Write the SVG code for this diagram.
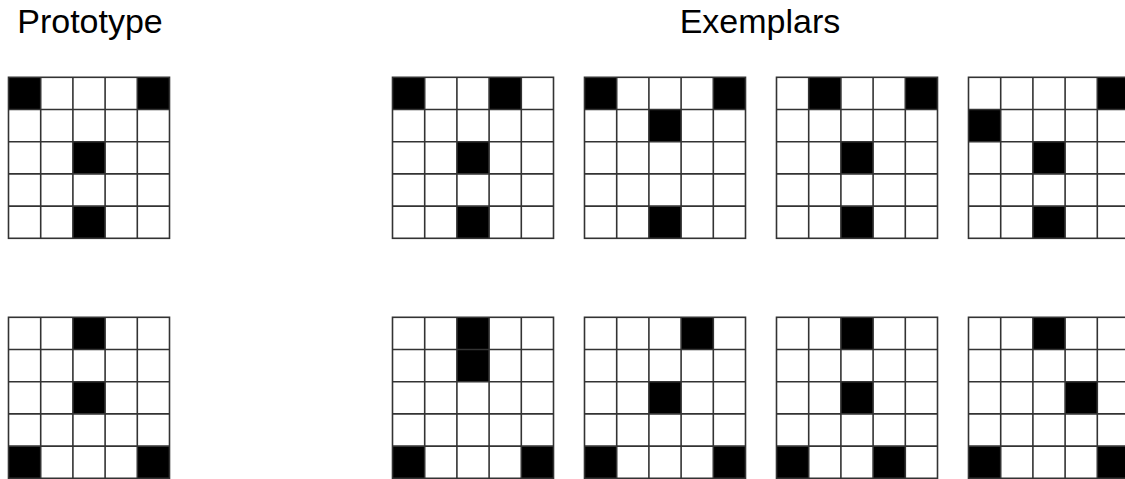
<svg xmlns="http://www.w3.org/2000/svg" xmlns:xlink="http://www.w3.org/1999/xlink" width="1125" height="479" viewBox="0 0 1125 479">
<style>
.title{font-family:"Liberation Sans",Arial,sans-serif;font-size:34px;fill:#000;text-anchor:middle}
.on{fill:#000}
.lines{fill:none;stroke:#333;stroke-width:1.6}
</style>
<defs>
<g id="grid">
<rect class="lines" x="0" y="0" width="161" height="161"/>
<path class="lines" d="M32.2 0V161M64.4 0V161M96.6 0V161M128.8 0V161M0 32.2H161M0 64.4H161M0 96.6H161M0 128.8H161"/>
</g>
<rect id="c" width="32.2" height="32.2" class="on"/>
</defs>
<rect width="1125" height="479" fill="#fff"/>
<text class="title" x="90" y="33">Prototype</text>
<text class="title" x="760" y="33">Exemplars</text>

<g id="proto-top" transform="translate(8.5,77.3)">
<use xlink:href="#c" x="0" y="0"/><use xlink:href="#c" x="128.8" y="0"/><use xlink:href="#c" x="64.4" y="64.4"/><use xlink:href="#c" x="64.4" y="128.8"/>
<use xlink:href="#grid"/>
</g>
<g id="ex1-top" transform="translate(392.5,77.3)">
<use xlink:href="#c" x="0" y="0"/><use xlink:href="#c" x="96.6" y="0"/><use xlink:href="#c" x="64.4" y="64.4"/><use xlink:href="#c" x="64.4" y="128.8"/>
<use xlink:href="#grid"/>
</g>
<g id="ex2-top" transform="translate(584.5,77.3)">
<use xlink:href="#c" x="0" y="0"/><use xlink:href="#c" x="128.8" y="0"/><use xlink:href="#c" x="64.4" y="32.2"/><use xlink:href="#c" x="64.4" y="128.8"/>
<use xlink:href="#grid"/>
</g>
<g id="ex3-top" transform="translate(776.5,77.3)">
<use xlink:href="#c" x="32.2" y="0"/><use xlink:href="#c" x="128.8" y="0"/><use xlink:href="#c" x="64.4" y="64.4"/><use xlink:href="#c" x="64.4" y="128.8"/>
<use xlink:href="#grid"/>
</g>
<g id="ex4-top" transform="translate(968.5,77.3)">
<use xlink:href="#c" x="128.8" y="0"/><use xlink:href="#c" x="0" y="32.2"/><use xlink:href="#c" x="64.4" y="64.4"/><use xlink:href="#c" x="64.4" y="128.8"/>
<use xlink:href="#grid"/>
</g>

<g id="proto-bottom" transform="translate(8.5,317.3)">
<use xlink:href="#c" x="64.4" y="0"/><use xlink:href="#c" x="64.4" y="64.4"/><use xlink:href="#c" x="0" y="128.8"/><use xlink:href="#c" x="128.8" y="128.8"/>
<use xlink:href="#grid"/>
</g>
<g id="ex1-bottom" transform="translate(392.5,317.3)">
<use xlink:href="#c" x="64.4" y="0"/><use xlink:href="#c" x="64.4" y="32.2"/><use xlink:href="#c" x="0" y="128.8"/><use xlink:href="#c" x="128.8" y="128.8"/>
<use xlink:href="#grid"/>
</g>
<g id="ex2-bottom" transform="translate(584.5,317.3)">
<use xlink:href="#c" x="96.6" y="0"/><use xlink:href="#c" x="64.4" y="64.4"/><use xlink:href="#c" x="0" y="128.8"/><use xlink:href="#c" x="128.8" y="128.8"/>
<use xlink:href="#grid"/>
</g>
<g id="ex3-bottom" transform="translate(776.5,317.3)">
<use xlink:href="#c" x="64.4" y="0"/><use xlink:href="#c" x="64.4" y="64.4"/><use xlink:href="#c" x="0" y="128.8"/><use xlink:href="#c" x="96.6" y="128.8"/>
<use xlink:href="#grid"/>
</g>
<g id="ex4-bottom" transform="translate(968.5,317.3)">
<use xlink:href="#c" x="64.4" y="0"/><use xlink:href="#c" x="96.6" y="64.4"/><use xlink:href="#c" x="0" y="128.8"/><use xlink:href="#c" x="128.8" y="128.8"/>
<use xlink:href="#grid"/>
</g>
<g id="connectors"/>
</svg>
